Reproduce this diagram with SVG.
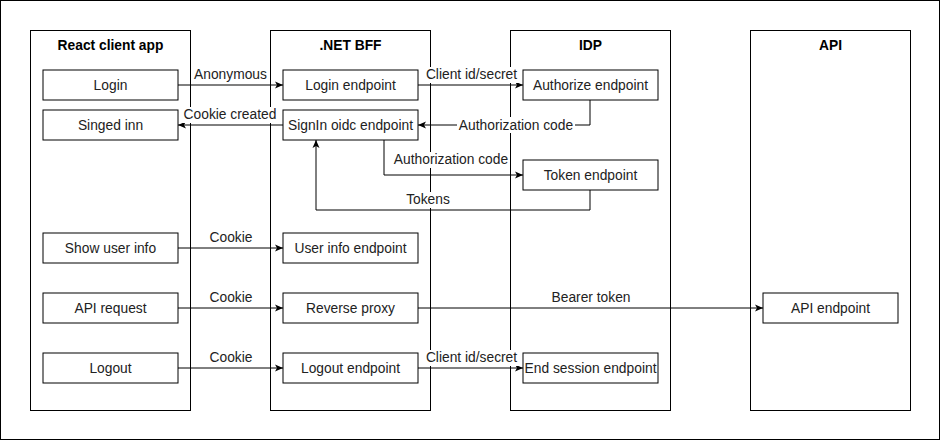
<svg xmlns="http://www.w3.org/2000/svg" width="941" height="441" viewBox="0 0 941 441">
<style>
.frame{fill:#fff;stroke:#000;stroke-width:1}
.col{fill:none;stroke:#000;stroke-width:1}
.node{fill:#fff;stroke:#000;stroke-width:1}
.title{font-family:"Liberation Sans",Arial,sans-serif;font-size:13.8px;font-weight:bold;fill:#000;text-anchor:middle}
.t{font-family:"Liberation Sans",Arial,sans-serif;font-size:13.8px;fill:#222;text-anchor:middle}
.edge{fill:none;stroke:#000;stroke-width:1}
.lbg{fill:#fff;stroke:none}
</style>
<defs>
<marker id="arr" markerUnits="userSpaceOnUse" viewBox="0 0 8 8" refX="8" refY="4" markerWidth="8" markerHeight="8" orient="auto">
<path d="M0,0.5 L8,4 L0,7.5 L2,4 Z" fill="#000"/>
</marker>
</defs>
<rect class="frame" x="0.5" y="0.5" width="939" height="439"/>
<g id="columns">
<g id="col-react"><rect class="col" x="30.5" y="30.5" width="160" height="380"/><text class="title" x="110.5" y="50">React client app</text></g>
<g id="col-bff"><rect class="col" x="270.5" y="30.5" width="160" height="380"/><text class="title" x="350.5" y="50">.NET BFF</text></g>
<g id="col-idp"><rect class="col" x="510.5" y="30.5" width="160" height="380"/><text class="title" x="590.5" y="50">IDP</text></g>
<g id="col-api"><rect class="col" x="750.5" y="30.5" width="160" height="380"/><text class="title" x="830.5" y="50">API</text></g>
</g>
<g id="connectors">
<path class="edge" d="M178,85 H283" marker-end="url(#arr)"/>
<path class="edge" d="M418,85 H523" marker-end="url(#arr)"/>
<path class="edge" d="M590,100 V125 H418" marker-end="url(#arr)"/>
<path class="edge" d="M283,125 H178" marker-end="url(#arr)"/>
<path class="edge" d="M384,140 V175 H523" marker-end="url(#arr)"/>
<path class="edge" d="M590,190 V210 H316 V140" marker-end="url(#arr)"/>
<path class="edge" d="M178,248 H283" marker-end="url(#arr)"/>
<path class="edge" d="M178,308 H283" marker-end="url(#arr)"/>
<path class="edge" d="M418,308 H763" marker-end="url(#arr)"/>
<path class="edge" d="M178,368 H283" marker-end="url(#arr)"/>
<path class="edge" d="M418,368 H523" marker-end="url(#arr)"/>
<g id="edge-labels">
<rect class="lbg" x="193" y="67" width="76" height="16"/><text class="t" x="230.5" y="79">Anonymous</text>
<rect class="lbg" x="424" y="67" width="95" height="16"/><text class="t" x="471.5" y="79">Client id/secret</text>
<rect class="lbg" x="457" y="117" width="118" height="16"/><text class="t" x="516" y="130">Authorization code</text>
<rect class="lbg" x="181" y="107" width="98" height="16"/><text class="t" x="230" y="119">Cookie created</text>
<rect class="lbg" x="392" y="152" width="118" height="16"/><text class="t" x="451" y="164">Authorization code</text>
<rect class="lbg" x="405" y="192" width="46" height="16"/><text class="t" x="428" y="204">Tokens</text>
<rect class="lbg" x="208" y="230" width="46" height="16"/><text class="t" x="231" y="242">Cookie</text>
<rect class="lbg" x="208" y="290" width="46" height="16"/><text class="t" x="231" y="302">Cookie</text>
<rect class="lbg" x="550" y="290" width="82" height="16"/><text class="t" x="591" y="302">Bearer token</text>
<rect class="lbg" x="208" y="350" width="46" height="16"/><text class="t" x="231" y="362">Cookie</text>
<rect class="lbg" x="424" y="350" width="95" height="16"/><text class="t" x="471.5" y="362">Client id/secret</text>
</g>
</g>
<g id="n-login"><rect class="node" x="43" y="70" width="135" height="30"/><text class="t" x="110.5" y="90">Login</text></g>
<g id="n-signedinn"><rect class="node" x="43" y="110" width="135" height="30"/><text class="t" x="110.5" y="130">Singed inn</text></g>
<g id="n-showuser"><rect class="node" x="43" y="233" width="135" height="30"/><text class="t" x="110.5" y="253">Show user info</text></g>
<g id="n-apireq"><rect class="node" x="43" y="293" width="135" height="30"/><text class="t" x="110.5" y="313">API request</text></g>
<g id="n-logout"><rect class="node" x="43" y="353" width="135" height="30"/><text class="t" x="110.5" y="373">Logout</text></g>
<g id="n-loginep"><rect class="node" x="283" y="70" width="135" height="30"/><text class="t" x="350.5" y="90">Login endpoint</text></g>
<g id="n-signin"><rect class="node" x="283" y="110" width="135" height="30"/><text class="t" x="350.5" y="130">SignIn oidc endpoint</text></g>
<g id="n-userinfo"><rect class="node" x="283" y="233" width="135" height="30"/><text class="t" x="350.5" y="253">User info endpoint</text></g>
<g id="n-proxy"><rect class="node" x="283" y="293" width="135" height="30"/><text class="t" x="350.5" y="313">Reverse proxy</text></g>
<g id="n-logoutep"><rect class="node" x="283" y="353" width="135" height="30"/><text class="t" x="350.5" y="373">Logout endpoint</text></g>
<g id="n-authorize"><rect class="node" x="523" y="70" width="135" height="30"/><text class="t" x="590.5" y="90">Authorize endpoint</text></g>
<g id="n-token"><rect class="node" x="523" y="160" width="135" height="30"/><text class="t" x="590.5" y="180">Token endpoint</text></g>
<g id="n-endsession"><rect class="node" x="523" y="353" width="135" height="30"/><text class="t" x="590.5" y="373">End session endpoint</text></g>
<g id="n-apiep"><rect class="node" x="763" y="293" width="135" height="30"/><text class="t" x="830.5" y="313">API endpoint</text></g>
</svg>
